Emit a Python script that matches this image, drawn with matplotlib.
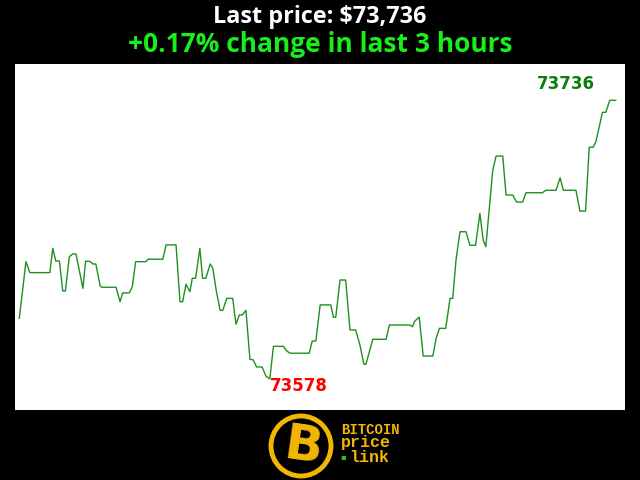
"""Bitcoin last-3-hours price card."""

import matplotlib

matplotlib.use("Agg")

import matplotlib.pyplot as plt
from matplotlib.patches import Circle

# minutes since start of the 3 hour window
minutes = [
    0.0, 2.0, 3.2, 9.2, 10.1, 11.0, 12.1, 13.1, 13.9, 15.1,
    16.1, 17.1, 19.2, 20.0, 21.3, 22.2, 23.1, 24.4, 25.0, 29.2,
    30.4, 31.2, 33.2, 34.1, 35.1, 38.2, 38.9, 43.3, 44.3, 47.3,
    48.5, 49.3, 50.3, 51.5, 52.2, 53.2, 54.5, 55.3, 56.3, 57.6,
    58.4, 59.4, 60.6, 61.4, 62.6, 64.4, 65.4, 66.4, 67.3, 68.4,
    69.6, 70.6, 71.6, 73.3, 74.4, 75.6, 76.7, 79.7, 80.7, 81.7,
    87.5, 88.4, 89.5, 90.8, 94.0, 94.8, 95.5, 96.8, 98.5, 99.8,
    101.5, 102.8, 104.0, 104.6, 106.7, 110.7, 111.7, 117.9, 118.6, 119.4,
    120.7, 121.9, 124.8, 125.8, 126.8, 128.7, 130.0, 130.8, 131.8, 133.0,
    134.8, 136.0, 137.7, 139.0, 140.0, 140.8, 142.9, 143.9, 145.9, 146.9,
    148.9, 150.1, 151.9, 152.9, 157.9, 158.9, 162.0, 163.2, 164.2, 168.0,
    169.2, 170.9, 172.0, 173.2, 174.0, 176.0, 177.0, 178.2, 180.0,
]
prices = [
    73612.4, 73644.5, 73638.3, 73638.3, 73652.1, 73644.9, 73644.9, 73627.9, 73627.9, 73647.3,
    73648.9, 73648.9, 73629.4, 73644.7, 73644.7, 73643.2, 73643.2, 73630.7, 73630.0, 73630.0,
    73621.8, 73626.8, 73626.8, 73630.3, 73644.5, 73644.5, 73645.9, 73645.9, 73654.0, 73654.0,
    73621.8, 73621.8, 73631.7, 73627.5, 73635.1, 73635.1, 73652.1, 73635.1, 73635.1, 73643.2,
    73640.8, 73628.5, 73616.9, 73616.9, 73623.7, 73623.7, 73609.0, 73614.3, 73614.3, 73616.9,
    73589.2, 73588.8, 73584.8, 73584.8, 73579.7, 73578.0, 73596.5, 73596.5, 73593.9, 73592.6,
    73592.6, 73599.5, 73599.5, 73620.0, 73620.0, 73613.0, 73613.0, 73634.1, 73634.1, 73605.8,
    73605.8, 73597.3, 73586.3, 73586.3, 73600.5, 73600.5, 73608.6, 73608.6, 73607.6, 73610.9,
    73613.0, 73591.0, 73591.0, 73601.1, 73606.7, 73606.7, 73623.7, 73623.7, 73645.5, 73661.5,
    73661.5, 73653.8, 73653.8, 73671.9, 73656.8, 73653.0, 73696.5, 73704.4, 73704.4, 73682.3,
    73682.3, 73678.3, 73678.3, 73683.6, 73683.6, 73685.0, 73685.0, 73692.1, 73685.0, 73685.0,
    73673.2, 73673.2, 73709.4, 73709.4, 73712.5, 73729.2, 73729.2, 73736.0, 73736.0,
]

last_price = 73736
low_price = 73578
change_pct = 0.17

fig = plt.figure(figsize=(6.4, 4.8), dpi=100, facecolor="black")

ax = fig.add_axes([15 / 640, 70 / 480, 610 / 640, 346 / 480])
ax.set_facecolor("white")
ax.plot(minutes, prices, color="#1f8f1f", linewidth=1.0)
ax.set_xlim(-1.3, 182.8)
ax.set_ylim(73560.4, 73756.6)
ax.set_xticks([])
ax.set_yticks([])
for s in ax.spines.values():
    s.set_visible(False)

# high / low labels
i_lo = prices.index(min(prices))
ax.annotate(
    f"{low_price}", xy=(minutes[i_lo], prices[i_lo]), xytext=(0, -5),
    textcoords="offset points", ha="left", va="center",
    color="#ff0000", fontsize=12, fontweight="bold", family="DejaVu Sans",
)
ax.annotate(
    f"{last_price}", xy=(minutes[-1], prices[-1]), xytext=(-15, 12),
    textcoords="offset points", ha="right", va="center",
    color="#0a800a", fontsize=12, fontweight="bold", family="DejaVu Sans",
)

fig.text(0.5, 1 - 17 / 480, f"Last price: ${last_price:,}", ha="center", va="center",
         color="white", fontsize=16.8, fontweight="bold", family="Open Sans")
fig.text(0.5, 1 - 45 / 480, f"+{change_pct:.2f}% change in last 3 hours", ha="center",
         va="center", color="#1aee1a", fontsize=19, fontweight="bold", family="Open Sans")

# logo
lax = fig.add_axes([266 / 640, 0, 72 / 640, 72 / 480])
lax.set_xlim(0, 72)
lax.set_ylim(0, 72)
lax.set_aspect("equal")
lax.axis("off")
gold = "#f2b705"
lax.add_patch(Circle((35, 34), 30, facecolor="black", edgecolor=gold, linewidth=3.5))
lax.text(37, 33, "B", ha="center", va="center", color=gold, fontsize=36,
         fontweight="bold", family="DejaVu Sans", rotation=-8)

fig.text(341 / 640, 1 - 430 / 480, "BITCOIN", ha="left", va="center", color=gold,
         fontsize=10, fontweight="bold", family="Liberation Mono")
fig.text(341 / 640, 1 - 443 / 480, "price", ha="left", va="center", color=gold,
         fontsize=12, fontweight="bold", family="Liberation Mono")
fig.text(349 / 640, 1 - 457 / 480, "link", ha="left", va="center", color=gold,
         fontsize=12, fontweight="bold", family="Liberation Mono")
fig.text(343 / 640, 1 - 457 / 480, "\u25aa", ha="center", va="center", color="#2fbf2f",
         fontsize=6, family="DejaVu Sans")

fig.savefig("out.png", dpi=100, facecolor="black")
